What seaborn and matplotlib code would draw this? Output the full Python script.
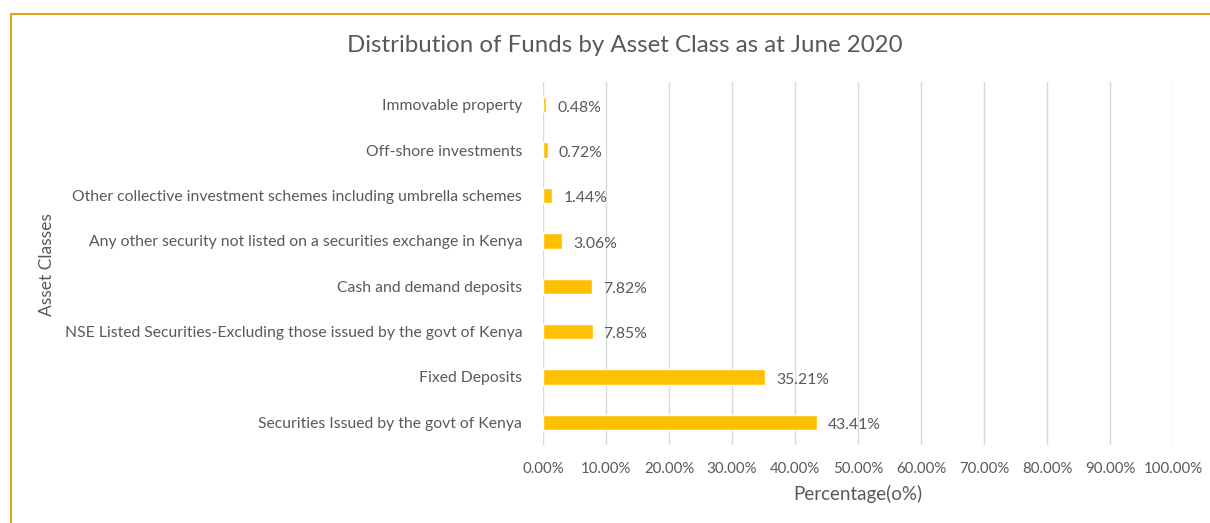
import matplotlib
matplotlib.use("Agg")
import matplotlib.pyplot as plt
import seaborn as sns
import pandas as pd
from matplotlib.patches import Rectangle

categories = [
    "Immovable property",
    "Off-shore investments",
    "Other collective investment schemes including umbrella schemes",
    "Any other security not listed on a securities exchange in Kenya",
    "Cash and demand deposits",
    "NSE Listed Securities-Excluding those issued by the govt of Kenya",
    "Fixed Deposits",
    "Securities Issued by the govt of Kenya",
]
values = [0.48, 0.72, 1.44, 3.06, 7.82, 7.85, 35.21, 43.41]
x_ticks = [0, 10, 20, 30, 40, 50, 60, 70, 80, 90, 100]

sns.set_theme(style="white")
plt.rcParams["font.family"] = ["Lato", "DejaVu Sans"]

TEXT = "#595959"
df = pd.DataFrame({"Asset": categories, "Pct": values})

fig = plt.figure(figsize=(12.10, 5.23), dpi=100)
ax = fig.add_axes([0.4488, 0.1491, 0.5207, 0.694])

sns.barplot(data=df, y="Asset", x="Pct", orient="h", color="#FFC000",
            saturation=1, width=0.34, ax=ax)

ax.set_xlim(0, 100)
ax.set_xticks(x_ticks)
ax.set_xticklabels([f"{t:.2f}%" for t in x_ticks], color=TEXT, fontsize=10.8)
ax.grid(axis="x", color="#D9D9D9", linewidth=1)
ax.set_axisbelow(True)
for s in ax.spines.values():
    s.set_visible(False)
ax.tick_params(axis="both", length=0)
ax.tick_params(axis="x", pad=12)
ax.tick_params(axis="y", pad=15)
for lbl in ax.get_yticklabels():
    lbl.set_color(TEXT)
    lbl.set_fontsize(11.3)

for i, v in enumerate(values):
    ax.annotate(f"{v:.2f}%", xy=(v, i), xytext=(8, -2), textcoords="offset points",
                ha="left", va="center", color=TEXT, fontsize=11.3)

ax.set_xlabel("Percentage(o%)", color=TEXT, fontsize=13.5, labelpad=7)
ax.set_ylabel("")
fig.text(0.039, 0.495, "Asset Classes", rotation=90, color=TEXT, fontsize=12.5,
         ha="center", va="center")
fig.text(0.5165, 0.913, "Distribution of Funds by Asset Class as at June 2020",
         color=TEXT, fontsize=17.3, ha="center", va="center")

border = Rectangle((11 / 1210, -0.1), 1.2, 1 - 14 / 523 + 0.1, transform=fig.transFigure,
                   fill=False, edgecolor="#D9A520", linewidth=1.5, clip_on=False)
fig.patches.append(border)

fig.savefig("out.png", dpi=100)
